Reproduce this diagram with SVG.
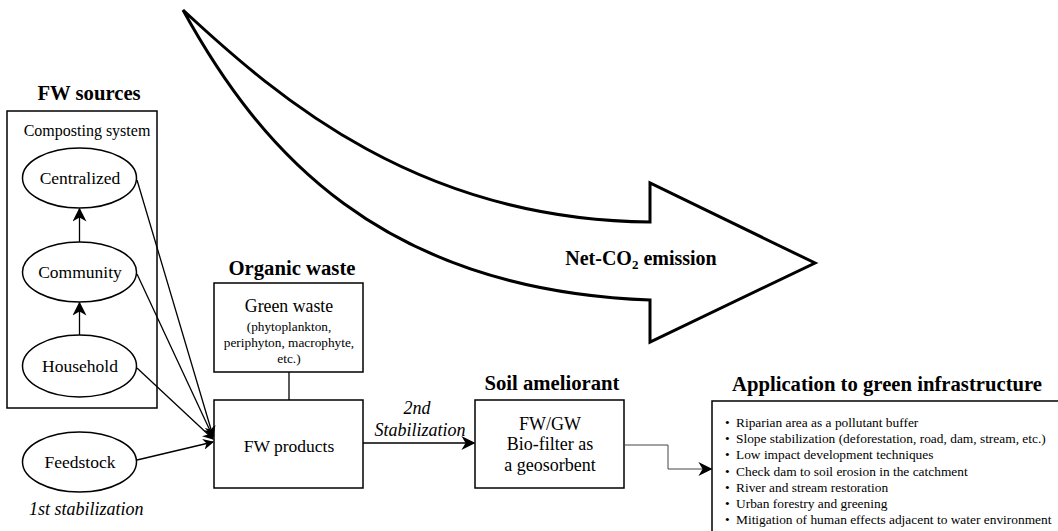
<svg xmlns="http://www.w3.org/2000/svg" width="1058" height="531" viewBox="0 0 1058 531">
<defs>
<style>
text{font-family:'Liberation Serif','Times New Roman',serif;fill:#000}
.t{font-weight:bold;font-size:20.7px}
.n{font-size:17.5px}
.s{font-size:13.3px}
.i{font-style:italic;font-size:18px}
.b{fill:#fff;stroke:#000;stroke-width:1.5}
.c{fill:none;stroke:#000;stroke-width:1.3}
</style>
<marker id="ah" viewBox="0 0 10 10" refX="9" refY="5" markerWidth="11" markerHeight="11" markerUnits="userSpaceOnUse" orient="auto">
<path d="M0,0 L10,5 L0,10 L3,5 Z" fill="#000"/>
</marker>
<marker id="ah2" viewBox="0 0 10 10" refX="9" refY="5" markerWidth="14" markerHeight="14" markerUnits="userSpaceOnUse" orient="auto">
<path d="M0,0 L10,5 L0,10 L3,5 Z" fill="#000"/>
</marker>
</defs>
<rect width="1058" height="531" fill="#fff"/>

<g id="co2-arrow">
<path d="M183,10 C280,100 420,220 650,222 L650,183 L815,263 L650,342 L650,300 C380,290 260,150 183,10 Z" fill="#fff" stroke="#000" stroke-width="3" stroke-linejoin="miter"/>
<text x="641" y="265" text-anchor="middle" style="font-weight:bold;font-size:20px">Net-CO<tspan dy="4" font-size="13">2</tspan><tspan dy="-4"> emission</tspan></text>
</g>

<g id="fw-sources">
<text class="t" x="89" y="100" text-anchor="middle">FW sources</text>
<rect class="b" x="7" y="111" width="150" height="297"/>
<text x="87" y="136" text-anchor="middle" style="font-size:16px">Composting system</text>
</g>
<g id="centralized"><ellipse class="b" cx="79.5" cy="178" rx="57" ry="30"/><text class="n" x="80" y="184" text-anchor="middle">Centralized</text></g>
<g id="community"><ellipse class="b" cx="79.5" cy="272" rx="57" ry="30"/><text class="n" x="80" y="278" text-anchor="middle">Community</text></g>
<g id="household"><ellipse class="b" cx="79.5" cy="366" rx="57" ry="31"/><text class="n" x="80" y="372" text-anchor="middle">Household</text></g>
<g id="feedstock"><ellipse class="b" cx="79.5" cy="462" rx="57" ry="30"/><text class="n" x="80" y="468" text-anchor="middle">Feedstock</text></g>
<text class="i" x="29" y="515">1st stabilization</text>

<g id="green-waste">
<text class="t" x="292" y="275" text-anchor="middle">Organic waste</text>
<rect class="b" x="214" y="283" width="149" height="89"/>
<text x="289" y="312" text-anchor="middle" style="font-size:17.8px">Green waste</text>
<text class="s" x="289" y="331" text-anchor="middle">(phytoplankton,</text>
<text class="s" x="289" y="347" text-anchor="middle">periphyton, macrophyte,</text>
<text class="s" x="289" y="363" text-anchor="middle">etc.)</text>
</g>
<g id="fw-products">
<rect class="b" x="214" y="400" width="149" height="88"/>
<text class="n" x="289" y="452" text-anchor="middle">FW products</text>
</g>

<g id="soil-ameliorant">
<text class="t" x="552" y="390" text-anchor="middle">Soil ameliorant</text>
<rect class="b" x="475" y="400" width="149" height="88"/>
<text x="550" y="430" text-anchor="middle" style="font-size:18px">FW/GW</text>
<text x="550" y="450" text-anchor="middle" style="font-size:18px">Bio-filter as</text>
<text x="550" y="471" text-anchor="middle" style="font-size:18px">a geosorbent</text>
</g>

<g id="application">
<text class="t" x="887" y="391" text-anchor="middle">Application to green infrastructure</text>
<rect class="b" x="712" y="401" width="360" height="150"/>
<g style="font-size:13.4px">
<text x="725" y="427">•</text><text x="736" y="427">Riparian area as a pollutant buffer</text>
<text x="725" y="443">•</text><text x="736" y="443">Slope stabilization (deforestation, road, dam, stream, etc.)</text>
<text x="725" y="459">•</text><text x="736" y="459">Low impact development techniques</text>
<text x="725" y="476">•</text><text x="736" y="476">Check dam to soil erosion in the catchment</text>
<text x="725" y="492">•</text><text x="736" y="492">River and stream restoration</text>
<text x="725" y="508">•</text><text x="736" y="508">Urban forestry and greening</text>
<text x="725" y="524">•</text><text x="736" y="524">Mitigation of human effects adjacent to water environment</text>
</g>
</g>

<g id="connectors">
<line class="c" x1="79.5" y1="242" x2="79.5" y2="209" marker-end="url(#ah2)"/>
<line class="c" x1="79.5" y1="335" x2="79.5" y2="303" marker-end="url(#ah2)"/>
<line class="c" x1="137" y1="180" x2="213" y2="436" marker-end="url(#ah)"/>
<line class="c" x1="137" y1="274" x2="213" y2="437" marker-end="url(#ah)"/>
<line class="c" x1="137" y1="368" x2="213" y2="439" marker-end="url(#ah)"/>
<line class="c" x1="137" y1="460" x2="213" y2="442" marker-end="url(#ah)"/>
<line class="c" x1="289" y1="372" x2="289" y2="400"/>
<line class="c" x1="363" y1="443" x2="474" y2="443" marker-end="url(#ah2)"/>
<text class="i" x="417" y="414" text-anchor="middle">2nd</text>
<text class="i" x="420" y="436" text-anchor="middle">Stabilization</text>
<polyline points="624,445 668,445 668,469 711,469" fill="none" stroke="#444" stroke-width="1" marker-end="url(#ah2)"/>
</g>
</svg>
